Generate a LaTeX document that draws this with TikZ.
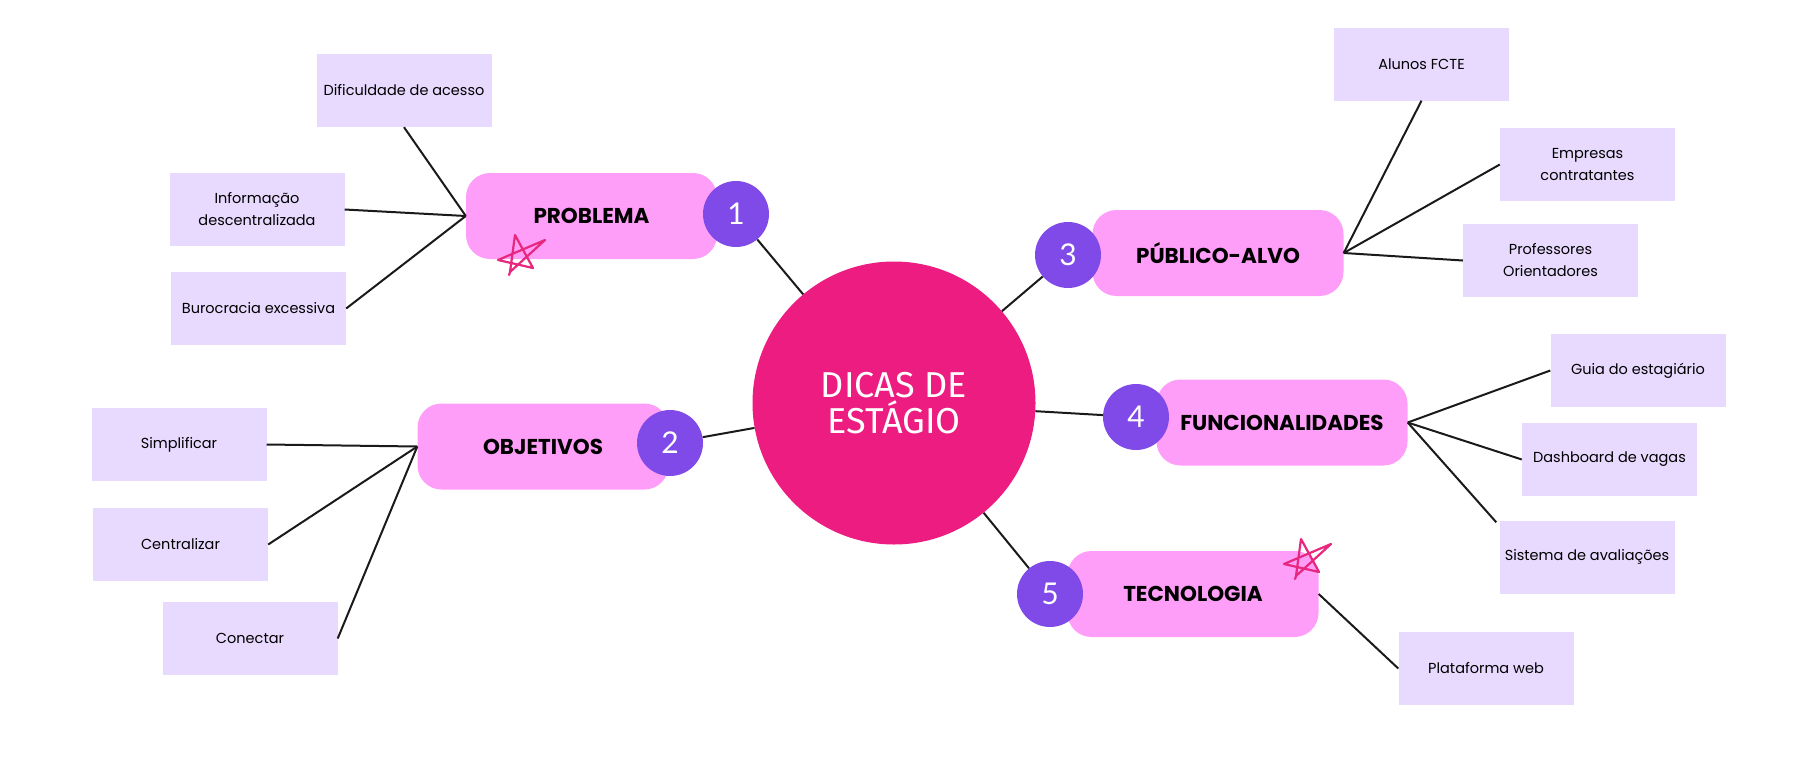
\documentclass[tikz,border=0pt]{standalone}
\usepackage{fontspec}
\setmainfont{Poppins}
\newfontfamily\titlefont{Poppins}
\newfontfamily\centerfont{Fira Sans}
\newfontfamily\numfont{Lato}
\definecolor{hubpink}{HTML}{EC1C80}
\definecolor{boxpink}{HTML}{FF9EF9}
\definecolor{numpurple}{HTML}{7F4AE8}
\definecolor{leafbg}{HTML}{E8DAFE}
\definecolor{starpink}{HTML}{E8277F}
\definecolor{linkcol}{HTML}{1A1A1A}
\tikzset{
  leaf/.style={rectangle, fill=leafbg, minimum width=175pt, minimum height=73pt, inner sep=0pt, align=center, text=black, font=\fontsize{14.5}{22}\selectfont},
  topic/.style={rectangle, rounded corners=24pt, fill=boxpink, minimum width=251pt, minimum height=86pt, inner sep=0pt, text=black, font=\titlefont\bfseries\fontsize{21.5}{24}\selectfont},
  num/.style={circle, fill=numpurple, minimum size=66pt, inner sep=0pt, text=white, font=\numfont\fontsize{30}{30}\selectfont},
  hubnode/.style={circle, fill=hubpink, minimum size=283pt, inner sep=0pt, text=white, align=center, font=\centerfont\fontsize{36}{36}\selectfont},
  link/.style={draw=linkcol, line width=2pt},
  handstar/.pic={
    \draw[starpink, line width=2.2pt, line cap=round, line join=round]
      (-13,22) -- (-12,19) -- (-7,-18) -- (11,15) -- (-24,7) -- (23,-13) -- (-12,19);
  }
}
\begin{document}
\begin{tikzpicture}[x=1pt, y=-1pt]
\useasboundingbox (0,0) rectangle (1808,761);
% leaves
\node[leaf] (dif) at (404,90.5) {Dificuldade de acesso};
\node[leaf] (inf) at (257,209.5) {Informação\\descentralizada};
\node[leaf] (bur) at (258.5,308.5) {Burocracia excessiva};
\node[leaf] (sim) at (179,444.5) {Simplificar};
\node[leaf] (cen) at (180.5,544.5) {Centralizar};
\node[leaf] (con) at (250,638.5) {Conectar};
\node[leaf] (alu) at (1421.5,64) {Alunos FCTE};
\node[leaf] (emp) at (1587.5,164.5) {Empresas\\contratantes};
\node[leaf] (pro) at (1550.5,260.5) {Professores\\Orientadores};
\node[leaf] (gui) at (1638,370.5) {Guia do estagiário};
\node[leaf] (das) at (1609.5,459.5) {Dashboard de vagas};
\node[leaf] (sis) at (1587,557) {Sistema de avaliações};
\node[leaf] (pla) at (1486,668.5) {Plataforma web};
% topics
\node[topic] (tprob) at (591.5,216) {PROBLEMA};
\node[topic] (tobj) at (543,446.5) {OBJETIVOS};
\node[topic] (tpub) at (1218,253) {PÚBLICO-ALVO};
\node[topic] (tfun) at (1282,422.5) {FUNCIONALIDADES};
\node[topic] (ttec) at (1193,594) {TECNOLOGIA};
% center
\node[hubnode] (hub) at (894,403) {DICAS DE\\ESTÁGIO};
% numbers
\node[num] (n1) at (736,214) {1};
\node[num] (n2) at (670,443) {2};
\node[num] (n3) at (1068,255) {3};
\node[num] (n4) at (1136,417) {4};
\node[num] (n5) at (1050,594) {5};
% links
\draw[link] (n1) -- (hub);
\draw[link] (n2) -- (hub);
\draw[link] (n3) -- (hub);
\draw[link] (n4) -- (hub);
\draw[link] (n5) -- (hub);
\draw[link] (tprob.west) -- (dif.south);
\draw[link] (tprob.west) -- (inf.east);
\draw[link] (tprob.west) -- (bur.east);
\draw[link] (tobj.west) -- (sim.east);
\draw[link] (tobj.west) -- (cen.east);
\draw[link] (tobj.west) -- (con.east);
\draw[link] (tpub.east) -- (alu.south);
\draw[link] (tpub.east) -- (emp.west);
\draw[link] (tpub.east) -- (pro.west);
\draw[link] (tfun.east) -- (gui.west);
\draw[link] (tfun.east) -- (das.west);
\draw[link] (tfun.east) -- ([xshift=-3pt,yshift=-2pt]sis.north west);
\draw[link] (ttec.east) -- (pla.west);
% stars
\pic at (522,253) {handstar};
\pic at (1308,557) {handstar};
\end{tikzpicture}
\end{document}
